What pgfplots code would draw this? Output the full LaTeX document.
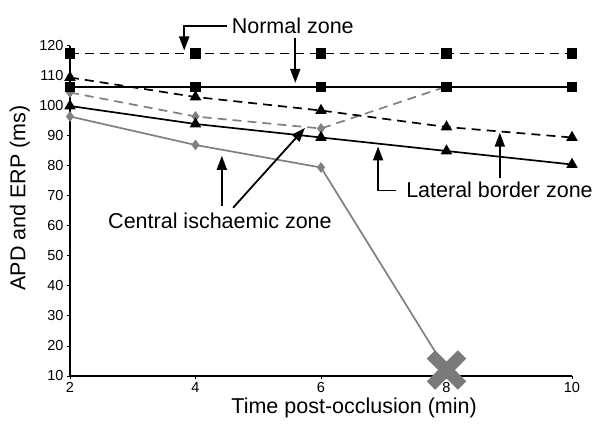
\documentclass[border=0pt]{standalone}
\usepackage{pgfplots}
\pgfplotsset{compat=1.18}
\usepackage{fontspec}
\setmainfont{Liberation Sans}
\usetikzlibrary{arrows.meta}

\definecolor{lgray}{RGB}{128,128,128}

\begin{document}
\begin{tikzpicture}
\begin{axis}[
    name=ax,
    scale only axis,
    width=502pt, height=330pt,
    xmin=2, xmax=10, ymin=10, ymax=120,
    xtick={2,4,6,8,10},
    ytick={10,20,...,120},
    axis lines=left,
    axis line style={-, line width=1.4pt},
    tick align=outside,
    major tick length=3pt,
    tick style={black, line width=1pt},
    tick label style={font=\fontsize{14.5}{17}\selectfont},
    /pgf/number format/assume math mode=true,
    xlabel={Time post-occlusion (min)},
    ylabel={APD and ERP (ms)},
    label style={font=\fontsize{21.5}{25}\selectfont},
    xlabel style={at={(axis description cs:0.566,-0.097)}, anchor=center},
    ylabel style={at={(axis description cs:-0.1,0.54)}, anchor=center},
    clip=false,
    every axis plot/.append style={line width=1.7pt},
  ]

  % central ischaemic zone (grey)
  \addplot[lgray, dash pattern=on 9pt off 6pt, mark=diamond*,
    mark size=4pt, mark options={solid, fill=lgray}, mark indices={1,2,3}]
    coordinates {(2,104.5) (4,96.5) (6,92.5) (8,106.5)};
  \addplot[lgray, mark=diamond*, mark size=4pt,
    mark options={fill=lgray}, mark indices={1,2,3}]
    coordinates {(2,96.5) (4,87) (6,79.5) (8,12)};
  \addplot[only marks, mark=x, mark size=22pt,
    mark options={draw=lgray!95!black, line width=12pt, line cap=butt}]
    coordinates {(8,12)};

  % normal zone
  \addplot[black, dash pattern=on 9pt off 6pt, mark=square*, mark size=4.5pt,
    mark options={solid}]
    coordinates {(2,117.5) (4,117.5) (6,117.5) (8,117.5) (10,117.5)};
  \addplot[black, mark=square*, mark size=4.5pt]
    coordinates {(2,106.3) (4,106.3) (6,106.3) (8,106.3) (10,106.3)};

  % lateral border zone
  \addplot[black, dash pattern=on 9pt off 6pt, mark=triangle*, mark size=5pt,
    mark options={solid}]
    coordinates {(2,109.5) (4,103) (6,98.5) (8,93) (10,89.5)};
  \addplot[black, mark=triangle*, mark size=5pt]
    coordinates {(2,100) (4,94) (6,89.5) (8,85) (10,80.5)};

  % annotations
  \begin{scope}[every node/.style={font=\fontsize{21.5}{25}\selectfont, inner sep=0pt},
      ar/.style={line width=1.8pt, miter limit=10,
        -{Triangle[width=10pt,length=14pt]}}]
    \node[anchor=base] at (axis cs:5.55,124.3) {Normal zone};
    \draw[ar] (axis cs:4.50,126.6) -- (axis cs:3.82,126.6) -- (axis cs:3.82,118.5);
    \draw[ar] (axis cs:5.59,122.6) -- (axis cs:5.59,107.7);

    \node[anchor=base] at (axis cs:8.845,69.4) {Lateral border zone};
    \draw[ar] (axis cs:7.2,71.8) -- (axis cs:6.91,71.8) -- (axis cs:6.91,86.5);
    \draw[ar] (axis cs:8.85,76.1) -- (axis cs:8.85,91.1);

    \node[anchor=base] at (axis cs:4.39,59.1) {Central ischaemic zone};
    \draw[ar] (axis cs:4.42,66.8) -- (axis cs:4.42,83.4);
    \draw[ar] (axis cs:4.60,66.1) -- (axis cs:5.745,92.7);
  \end{scope}
\end{axis}
\path (ax.south west) ++(-70pt,-57pt) rectangle ++(609pt,433pt);
\end{tikzpicture}
\end{document}
